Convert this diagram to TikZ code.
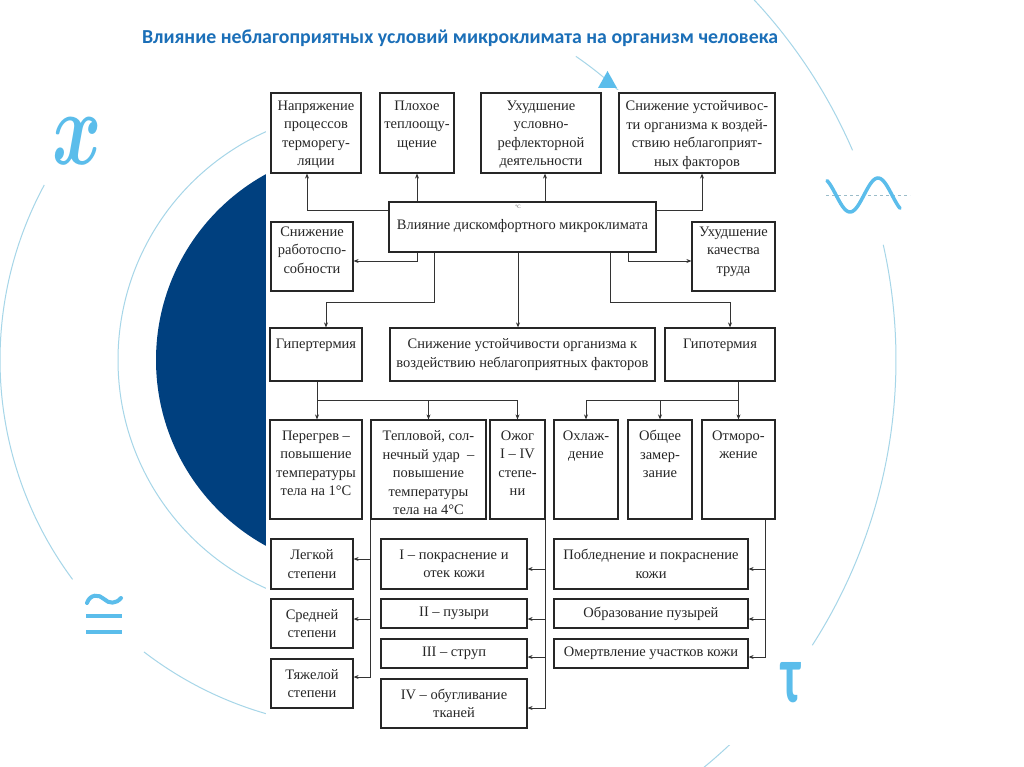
\documentclass[tikz,border=0pt]{standalone}
\usepackage{fontspec}
\setmainfont{Liberation Serif}
\newfontfamily\titlefont{Carlito}
\usetikzlibrary{arrows.meta,fit,calc}
\definecolor{navy}{HTML}{00407F}
\definecolor{lblue}{HTML}{A6D6E8}
\definecolor{sblue}{HTML}{5BBDEB}
\definecolor{tblue}{HTML}{1B6FB8}
\newcommand\mkbox[5]{\node[boxst, fit={(#2,#3) (#4,#5)}] (#1) {};}
\begin{document}
\begin{tikzpicture}[x=1pt,y=-1pt,
  boxst/.style={draw=black!85, line width=1.2pt, inner sep=0pt, fill=white},
  txt/.style={inner sep=0pt, align=center, font=\fontsize{14.5}{18.5}\selectfont, text=black!85},
  conn/.style={draw=black!80, line width=0.9pt, -{Stealth[length=5pt,width=4pt]}},
  line/.style={draw=black!80, line width=0.9pt},
  deco/.style={draw=lblue, line width=1pt},
]
\useasboundingbox (0,0) rectangle (1024,767);
\fill[white] (0,0) rectangle (1024,767);
% background decoration
\coordinate (O) at (368,360);
\fill[navy] (O) circle[radius=212];
\draw[deco] (O) circle[radius=250];
\draw[deco] ([shift={(-151.6:368)}]O) arc[start angle=-151.6, end angle=-216.6, radius=368];
\draw[deco] ([shift={(-232.5:368)}]O) arc[start angle=-232.5, end angle=-415.6, radius=368];
\draw[deco] ([shift={(-60:528)}]O) arc[start angle=-60, end angle=-23.4, radius=528];
\draw[deco] ([shift={(-12.6:528)}]O) arc[start angle=-12.6, end angle=32.7, radius=528];
\draw[deco] ([shift={(43:528)}]O) arc[start angle=43, end angle=60, radius=528];
\fill[white] (266,90) rectangle (780,745);
% symbols
\node[text=sblue, inner sep=0pt] (symx) at (77,141) {\scalebox{7.5}[10.5]{\boldmath$x$}};
\node[text=sblue, inner sep=0pt] (symtau) at (791,683) {\scalebox{1.05}[1.8]{\fontsize{46}{46}\selectfont\titlefont\bfseries τ}};
\draw[sblue, line width=4pt, line cap=round] (87,603) .. controls (90,594) and (99,594) .. (104,599) .. controls (109,604) and (116,604) .. (121,598);
\draw[sblue, line width=4.5pt] (86,616) -- (122,616);
\draw[sblue, line width=4.5pt] (86,632) -- (122,632);
\draw[lblue!70!gray, dashed, line width=0.8pt] (826,195) -- (910,195);
\draw[sblue, line width=3.5pt, line cap=round, domain=0:73, samples=60, smooth] plot ({827+\x}, {195-17*cos(6.4286*(\x+5))});
\fill[sblue] (598,88) -- (617,88) -- (607.5,71) -- cycle;
% title
\node[text=tblue, inner sep=0pt] (title) at (460,38) {\resizebox{636pt}{!}{\titlefont\bfseries\fontsize{17}{17}\selectfont Влияние неблагоприятных условий микроклимата на организм человека}};
% boxes
\mkbox{b1}{271}{93}{361}{173}
\mkbox{b2}{380}{93}{454}{173}
\mkbox{b3}{481}{93}{601}{173}
\mkbox{b4}{619}{93}{775}{173}
\mkbox{c}{389}{202}{656}{252}
\mkbox{sl}{271}{222}{353}{291}
\mkbox{sr}{692}{222}{775}{291}
\mkbox{hyper}{270}{328}{362}{381}
\mkbox{mid}{390}{328}{655}{381}
\mkbox{hypo}{665}{328}{775}{381}
\mkbox{p1}{270}{420}{362}{519}
\mkbox{p2}{371}{420}{486}{519}
\mkbox{p3}{490}{420}{545}{519}
\mkbox{o1}{554}{420}{618}{519}
\mkbox{o2}{628}{420}{692}{519}
\mkbox{o3}{702}{420}{775}{519}
\mkbox{l1}{271}{539}{353}{589}
\mkbox{l2}{271}{599}{353}{648}
\mkbox{l3}{271}{659}{353}{708}
\mkbox{r1}{381}{539}{527}{589}
\mkbox{r2}{381}{599}{527}{628}
\mkbox{r3}{381}{639}{527}{668}
\mkbox{r4}{381}{679}{527}{728}
\mkbox{q1}{554}{539}{748}{589}
\mkbox{q2}{554}{599}{748}{628}
\mkbox{q3}{554}{639}{748}{668}
% texts
\node[txt, anchor=north] (b1t) at ([yshift=-8pt]b1.north) {Напряжение\\процессов\\терморегу-\\ляции};
\node[txt, anchor=north] (b2t) at ([yshift=-8pt]b2.north) {Плохое\\теплоощу-\\щение};
\node[txt, anchor=north] (b3t) at ([yshift=-8pt]b3.north) {Ухудшение\\условно-\\рефлекторной\\деятельности};
\node[txt, anchor=north] (b4t) at ([yshift=-8pt]b4.north) {Снижение устойчивос-\\ти организма к воздей-\\ствию неблагоприят-\\ных факторов};
\node[txt] (ct) at ([yshift=1pt]c.center) {Влияние дискомфортного микроклимата};
\node[inner sep=0pt, font=\fontsize{5}{5}\selectfont, text=black!70] (cdeg) at (518,207) {°C};
\node[txt, anchor=north] (slt) at ([yshift=-5pt]sl.north) {Снижение\\работоспо-\\собности};
\node[txt, anchor=north] (srt) at ([yshift=-5pt]sr.north) {Ухудшение\\качества\\труда};
\node[txt, anchor=north] (hypert) at ([yshift=-11pt]hyper.north) {Гипертермия};
\node[txt, anchor=north] (midt) at ([yshift=-11pt]mid.north) {Снижение устойчивости организма к\\воздействию неблагоприятных факторов};
\node[txt, anchor=north] (hypot) at ([yshift=-11pt]hypo.north) {Гипотермия};
\node[txt, anchor=north] (p1t) at ([yshift=-11pt]p1.north) {Перегрев –\\повышение\\температуры\\тела на 1°C};
\node[txt, anchor=north] (p2t) at ([yshift=-11pt]p2.north) {Тепловой, сол-\\нечный удар \ –\\повышение\\температуры\\тела на 4°C};
\node[txt, anchor=north] (p3t) at ([yshift=-11pt]p3.north) {Ожог\\I – IV\\степе-\\ни};
\node[txt, anchor=north] (o1t) at ([yshift=-11pt]o1.north) {Охлаж-\\дение};
\node[txt, anchor=north] (o2t) at ([yshift=-11pt]o2.north) {Общее\\замер-\\зание};
\node[txt, anchor=north] (o3t) at ([yshift=-11pt]o3.north) {Отморо-\\жение};
\node[txt] (l1t) at (l1.center) {Легкой\\степени};
\node[txt] (l2t) at (l2.center) {Средней\\степени};
\node[txt] (l3t) at (l3.center) {Тяжелой\\степени};
\node[txt] (r1t) at (r1.center) {I – покраснение и\\отек кожи};
\node[txt] (r2t) at (r2.center) {II – пузыри};
\node[txt] (r3t) at (r3.center) {III – струп};
\node[txt] (r4t) at (r4.center) {IV – обугливание\\тканей};
\node[txt] (q1t) at (q1.center) {Побледнение и покраснение\\кожи};
\node[txt] (q2t) at (q2.center) {Образование пузырей};
\node[txt] (q3t) at (q3.center) {Омертвление участков кожи};
% connectors from central box
\draw[conn] ([yshift=17pt]c.west) -| ([xshift=-9pt]b1.south);
\draw[conn] ([yshift=17pt]c.east) -| ([xshift=5pt]b4.south);
\draw[conn] (b2.south |- c.north) -- (b2.south);
\coordinate (b3a) at ([xshift=4pt]b3.south);
\draw[conn] (b3a |- c.north) -- (b3a);
\draw[conn] (b2.south |- c.south) |- ([yshift=-4.5pt]sl.east);
\coordinate (csr) at ([xshift=105.5pt]c.south);
\draw[conn] (csr) |- ([yshift=-4.5pt]sr.west);
\coordinate (chy) at ([xshift=-88.5pt]c.south);
\draw[conn] (chy) -- ++(0,50) -| ([xshift=10pt]hyper.north);
\draw[conn] ([xshift=-4.5pt]c.south) -- ([xshift=-4.5pt]mid.north);
\coordinate (cho) at ([xshift=87.5pt]c.south);
\draw[conn] (cho) -- ++(0,50) -| ([xshift=10pt]hypo.north);
% hyperthermia branch
\path (hyper.south) ++(1,19) coordinate (hb);
\draw[line] ([xshift=1pt]hyper.south) -- (hb);
\draw[conn] (hb) -- (hb |- p1.north);
\draw[conn] (hb) -| (p3.north);
\draw[conn] (p2.north |- hb) -- (p2.north);
% hypothermia branch
\path (hypo.south) ++(18.5,19) coordinate (ob);
\draw[conn] ([xshift=18.5pt]hypo.south) -- (o3.north);
\draw[conn] (ob) -| (o1.north);
\draw[conn] (o2.north |- ob) -- (o2.north);
% degrees
\coordinate (l1a) at ([yshift=5pt]l1.east);
\coordinate (l2a) at ([yshift=4.5pt]l2.east);
\draw[conn] (p2.south west) |- ([yshift=6.5pt]l3.east);
\draw[conn] (l1a -| p2.south west) -- (l1a);
\draw[conn] (l2a -| p2.south west) -- (l2a);
% burns
\coordinate (r1a) at ([yshift=-5pt]r1.east);
\coordinate (r2a) at ([yshift=-5.5pt]r2.east);
\coordinate (r3a) at ([yshift=-3.5pt]r3.east);
\draw[conn] (p3.south east) |- ([yshift=-4.5pt]r4.east);
\draw[conn] (r1a -| p3.south east) -- (r1a);
\draw[conn] (r2a -| p3.south east) -- (r2a);
\draw[conn] (r3a -| p3.south east) -- (r3a);
% frostbite
\coordinate (ot) at ([xshift=26.5pt]o3.south);
\coordinate (q1a) at ([yshift=-5pt]q1.east);
\coordinate (q2a) at ([yshift=-5.5pt]q2.east);
\draw[conn] (ot) |- ([yshift=-3.5pt]q3.east);
\draw[conn] (q1a -| ot) -- (q1a);
\draw[conn] (q2a -| ot) -- (q2a);
\end{tikzpicture}
\end{document}
